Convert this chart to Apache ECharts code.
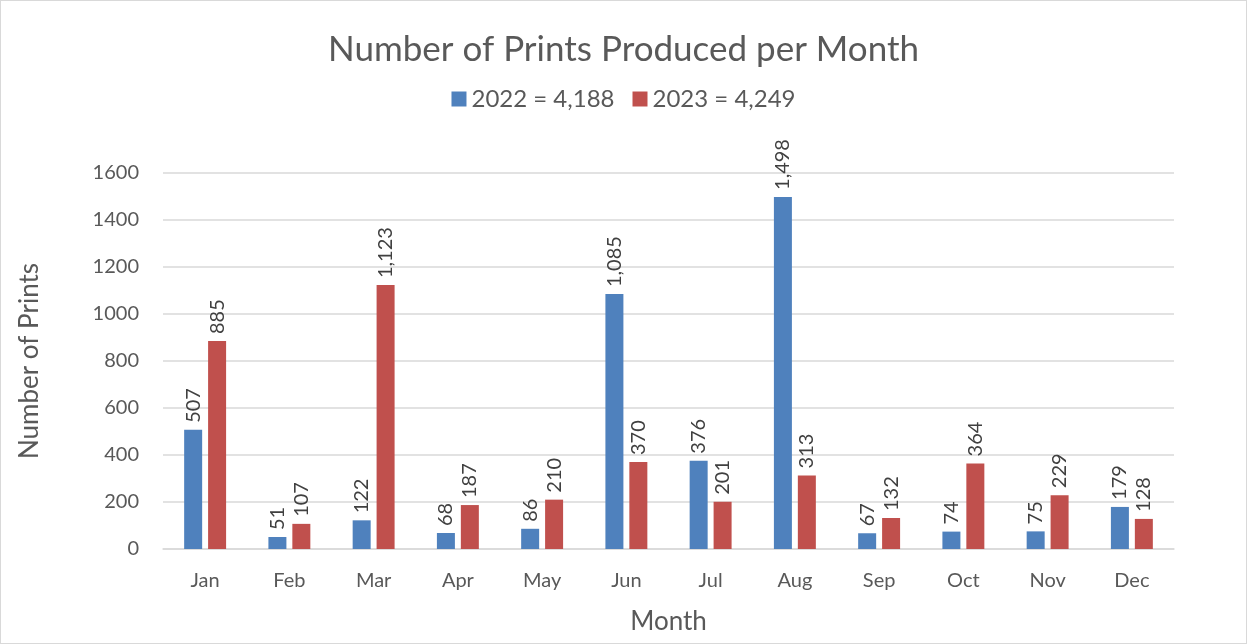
<!DOCTYPE html>
<html>
<head>
<meta charset="utf-8">
<script src="https://cdn.jsdelivr.net/npm/echarts@6/dist/echarts.min.js"></script>
<style>
html,body{margin:0;padding:0;background:#fff;}
#c{width:1247px;height:644px;box-sizing:border-box;border:1px solid #d9d9d9;}
</style>
</head>
<body>
<div id="c"></div>
<script>
const months = ['Jan','Feb','Mar','Apr','May','Jun','Jul','Aug','Sep','Oct','Nov','Dec'];
const values2022 = [507,51,122,68,86,1085,376,1498,67,74,75,179];
const values2023 = [885,107,1123,187,210,370,201,313,132,364,229,128];
const seriesNames = ['2022 = 4,188','2023 = 4,249'];
const FONT = 'Lato, "Open Sans", sans-serif';
const txt = '#595959';
const chart = echarts.init(document.getElementById('c'));
const labelCfg = {
  show:true, position:'top', rotate:90, align:'left', verticalAlign:'middle', distance:7,
  color:'#404040', fontSize:20, fontFamily:FONT,
  formatter:p=>p.value.toLocaleString('en-US')
};
chart.setOption({
  animation:false,
  title:{text:'Number of Prints Produced per Month',left:'center',top:26,
    textStyle:{fontFamily:FONT,fontSize:35,fontWeight:'normal',color:txt}},
  legend:{top:81,left:'center',itemWidth:15,itemHeight:15,itemGap:18,icon:'rect',
    textStyle:{fontFamily:FONT,fontSize:24,color:txt}},
  grid:{left:162,right:72,top:172,bottom:94,outerBoundsMode:'none',containLabel:false},
  xAxis:{type:'category',data:months,name:'Month',nameLocation:'middle',nameGap:60,
    nameTextStyle:{fontFamily:FONT,fontSize:26,color:txt},
    axisLine:{lineStyle:{color:'#d9d9d9',width:1.5}},axisTick:{show:false},
    axisLabel:{fontFamily:FONT,fontSize:20,color:txt,margin:22}},
  yAxis:{type:'value',min:0,max:1600,interval:200,name:'Number of Prints',nameLocation:'middle',nameGap:120,
    nameTextStyle:{fontFamily:FONT,fontSize:26,color:txt},
    axisLine:{show:false},axisTick:{show:false},
    splitLine:{lineStyle:{color:'#d9d9d9',width:1.5}},
    axisLabel:{fontFamily:FONT,fontSize:20,color:txt,margin:24,formatter:v=>String(v)}},
  series:[
    {name:seriesNames[0],type:'bar',data:values2022,barWidth:18,barGap:'33%',
      itemStyle:{color:'#4F81BD'},label:labelCfg},
    {name:seriesNames[1],type:'bar',data:values2023,barWidth:18,barGap:'33%',
      itemStyle:{color:'#C0504D'},label:labelCfg}
  ]
});
</script>
</body>
</html>
